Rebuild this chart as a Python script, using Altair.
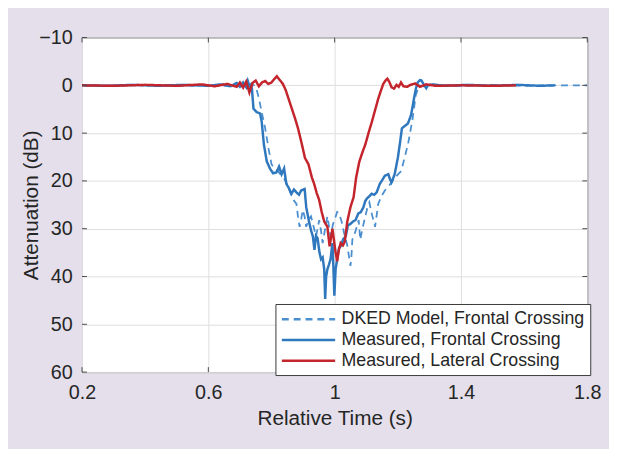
import altair as alt
import pandas as pd

# ---- data ----
series_names = ["DKED Model, Frontal Crossing",
                "Measured, Frontal Crossing",
                "Measured, Lateral Crossing"]

dked_t = [0.20, 0.30, 0.40, 0.50, 0.60, 0.68, 0.72, 0.745, 0.753, 0.761, 0.769, 0.78,
          0.79, 0.80, 0.81, 0.82, 0.83, 0.84, 0.85, 0.86, 0.87, 0.879, 0.884, 0.889,
          0.894, 0.899, 0.905, 0.91, 0.918, 0.925, 0.933, 0.941, 0.946, 0.951, 0.957,
          0.962, 0.97, 0.977, 0.982, 0.987, 0.995, 1.003, 1.008, 1.014, 1.022, 1.03,
          1.04, 1.05, 1.053, 1.056, 1.066, 1.076, 1.081, 1.088, 1.096, 1.104, 1.11,
          1.118, 1.128, 1.138, 1.148, 1.159, 1.17, 1.18, 1.195, 1.211, 1.222, 1.232,
          1.24, 1.247, 1.257, 1.268, 1.28, 1.30, 1.40, 1.50, 1.60, 1.70, 1.80]
dked_v = [0.0, 0.1, -0.1, 0.1, 0.0, 0.1, -0.1, 0.0, 0.9, 3.0, 5.6, 9.0,
          13.0, 16.5, 17.5, 17.9, 18.8, 19.5, 20.8, 22.5, 24.0, 24.8, 27.5, 29.6,
          28.0, 26.1, 27.5, 29.6, 28.0, 27.4, 29.5, 31.6, 30.0, 28.2, 30.5,
          33.0, 30.0, 27.4, 29.5, 31.6, 29.0, 27.5, 26.5, 26.8, 28.5, 30.9,
          33.5, 37.8, 36.0, 32.3, 30.5, 28.2, 32.3, 30.0, 27.7, 25.5, 24.5,
          27.0, 29.6, 24.8, 23.2, 22.0, 21.2, 20.3, 19.0, 17.9, 15.0, 12.4,
          9.5, 6.9, 2.0, 0.0, 0.2, -0.1, 0.1, -0.1, 0.1, 0.0, 0.0]

meas_t = [0.20, 0.28, 0.36, 0.44, 0.52, 0.60, 0.64, 0.67, 0.69, 0.70, 0.71, 0.72,
          0.725, 0.73, 0.735, 0.738, 0.743, 0.753, 0.764, 0.769, 0.776, 0.785, 0.795,
          0.805, 0.816, 0.824, 0.832, 0.84, 0.847, 0.855, 0.863, 0.871, 0.879, 0.887,
          0.894, 0.905, 0.91, 0.92, 0.926, 0.931, 0.936, 0.941, 0.946, 0.952, 0.957,
          0.962, 0.967, 0.97, 0.973, 0.977, 0.982, 0.987, 0.993, 0.996, 0.999, 1.003,
          1.008, 1.014, 1.019, 1.027, 1.035, 1.042, 1.05, 1.058, 1.066, 1.075, 1.083,
          1.091, 1.097, 1.102, 1.11, 1.117, 1.125, 1.133, 1.143, 1.151, 1.159, 1.17,
          1.175, 1.18, 1.185, 1.19, 1.20, 1.207, 1.213, 1.222, 1.232, 1.242, 1.248,
          1.253, 1.258, 1.263, 1.27, 1.275, 1.282, 1.29, 1.295, 1.31, 1.35, 1.42,
          1.50, 1.58, 1.65, 1.697]
meas_v = [0.0, 0.1, -0.1, 0.1, -0.1, 0.1, -0.2, 0.2, -0.5, 0.3, -0.6, 0.4,
          -0.9, 0.2, -0.2, 0.7, 4.9, 5.6, 5.9, 7.6, 12.4, 15.9, 17.4,
          18.4, 18.2, 17.0, 18.6, 17.4, 20.6, 21.5, 22.7, 21.8, 22.4, 22.9,
          22.0, 21.7, 25.5, 28.9, 30.5, 31.6, 34.4, 31.5, 32.0, 35.0, 36.4,
          36.0, 38.5, 44.7, 40.0, 38.5, 37.5, 36.4, 33.0, 38.0, 44.0, 38.5,
          36.4, 34.0, 33.7, 32.2, 31.6, 29.3, 29.0, 28.5, 28.2, 26.8, 26.5,
          25.5, 24.2, 23.7, 23.2, 22.7, 22.9, 22.4, 20.6, 19.8, 18.9, 18.6,
          19.6, 20.3, 19.5, 18.6, 15.2, 12.0, 9.0, 8.5, 8.0, 6.2, 4.0,
          2.1, 0.5, -0.6, -1.1, -1.0, -0.2, 0.6, 0.0, -0.2, 0.1, -0.1,
          0.1, -0.1, 0.1, 0.0]

lat_t = [0.20, 0.30, 0.40, 0.50, 0.58, 0.62, 0.66, 0.69, 0.70, 0.71, 0.72, 0.73,
         0.74, 0.75, 0.76, 0.77, 0.78, 0.79, 0.80, 0.81, 0.817, 0.825, 0.836, 0.845,
         0.855, 0.865, 0.875, 0.884, 0.895, 0.906, 0.917, 0.928, 0.935, 0.943, 0.951,
         0.959, 0.967, 0.977, 0.984, 0.993, 1.003, 1.008, 1.013, 1.019, 1.026, 1.032,
         1.04, 1.05, 1.06, 1.068, 1.078, 1.088, 1.097, 1.108, 1.118, 1.128, 1.138,
         1.146, 1.154, 1.161, 1.167, 1.174, 1.18, 1.188, 1.196, 1.203, 1.21, 1.218,
         1.23, 1.24, 1.255, 1.27, 1.29, 1.32, 1.40, 1.50, 1.574]
lat_v = [0.0, 0.1, -0.1, 0.1, -0.2, 0.2, -0.3, 0.3, -0.6, 0.5, -0.8, 1.5,
         -0.5, -1.0, 0.2, -0.6, -0.9, -0.3, -0.6, -1.4, -1.9, -1.2, -0.3, 1.0,
         3.0, 5.0, 7.0, 9.0, 12.0, 15.2, 16.5, 19.3, 20.6, 22.5, 24.0,
         26.5, 28.5, 29.6, 33.7, 30.0, 35.0, 36.8, 34.5, 33.0, 33.5, 32.7,
         28.5, 25.5, 23.4, 19.3, 16.0, 14.0, 12.4, 9.8, 7.6, 5.2, 2.8,
         1.2, -0.3, -1.0, -1.4, -0.6, 0.4, 0.7, -0.1, 0.3, -0.6, 0.2,
         0.3, -0.1, -0.4, 0.3, -0.2, 0.1, 0.0, 0.1, 0.0]

x_ticks = [0.2, 0.6, 1.0, 1.4, 1.8]
y_ticks = [-10, 0, 10, 20, 30, 40, 50, 60]

rows = []
for name, ts, vs in [(series_names[0], dked_t, dked_v),
                     (series_names[1], meas_t, meas_v),
                     (series_names[2], lat_t, lat_v)]:
    for t, v in zip(ts, vs):
        rows.append({"series": name, "t": t, "v": v})
df = pd.DataFrame(rows)
xt_df = pd.DataFrame({"t": x_ticks})
yt_df = pd.DataFrame({"v": y_ticks})

W, H = 512, 339
TICK = 5
FONT = "Liberation Sans"
TXT = "#262626"
FRAME = "#4a4a4a"

color_scale = alt.Scale(domain=series_names, range=["#4b8fd0", "#2f78be", "#c4242b"])
dash_scale = alt.Scale(domain=series_names, range=[[7, 5], [1, 0], [1, 0]])
x_scale = alt.Scale(domain=[0.2, 1.8], nice=False, zero=False)
y_scale = alt.Scale(domain=[-10, 60], reverse=True, nice=False, zero=False)

x_axis = alt.Axis(values=x_ticks,
                  labelExpr="abs(datum.value - 1) < 1e-9 ? '1' : format(datum.value, '.1f')",
                  title="Relative Time (s)",
                  grid=True, gridColor="#dedede", ticks=False, domain=False,
                  labelFontSize=20, titleFontSize=21, labelFont=FONT,
                  titleFont=FONT, labelColor=TXT, titleColor=TXT,
                  titleFontWeight="normal", labelPadding=11, titlePadding=5,
                  labelFlush=False)
y_axis = alt.Axis(values=y_ticks, format="d", title="Attenuation (dB)",
                  grid=True, gridColor="#dedede", ticks=False, domain=False,
                  labelFontSize=20, titleFontSize=21, labelFont=FONT,
                  titleFont=FONT, labelColor=TXT, titleColor=TXT,
                  titleFontWeight="normal", labelPadding=10, titlePadding=-3,
                  labelFlush=False)

x_enc = alt.X("t:Q", scale=x_scale, axis=x_axis, title="Relative Time (s)")
y_enc = alt.Y("v:Q", scale=y_scale, axis=y_axis, title="Attenuation (dB)")

legend = alt.Legend(title=None, orient="none", legendX=196, legendY=270,
                    fillColor="white", strokeColor="#3a3a3a", padding=5,
                    labelFontSize=18, labelFont=FONT, labelColor=TXT,
                    symbolType="M-1,0H5", symbolSize=324, symbolStrokeWidth=2.5,
                    labelOffset=41, rowPadding=1, labelLimit=400)

def layer(name, width):
    return alt.Chart(df).transform_filter(
        alt.datum.series == name
    ).mark_line(strokeWidth=width, clip=True).encode(
        x=x_enc, y=y_enc,
        color=alt.Color("series:N", scale=color_scale, legend=legend),
        strokeDash=alt.StrokeDash("series:N", scale=dash_scale, legend=legend),
    )

# inward tick marks on all four sides (same axis definitions so axes merge)
ticks_bottom = alt.Chart(xt_df).mark_rule(color=FRAME, strokeWidth=1).encode(
    x=x_enc, y=alt.value(H), y2=alt.value(H - TICK))
ticks_top = alt.Chart(xt_df).mark_rule(color=FRAME, strokeWidth=1).encode(
    x=x_enc, y=alt.value(0), y2=alt.value(TICK))
ticks_left = alt.Chart(yt_df).mark_rule(color=FRAME, strokeWidth=1).encode(
    y=y_enc, x=alt.value(0), x2=alt.value(TICK))
ticks_right = alt.Chart(yt_df).mark_rule(color=FRAME, strokeWidth=1).encode(
    y=y_enc, x=alt.value(W), x2=alt.value(W - TICK))

chart = alt.layer(
    layer(series_names[0], 1.8),
    layer(series_names[1], 2.5),
    layer(series_names[2], 2.5),
    ticks_bottom, ticks_top, ticks_left, ticks_right,
).properties(
    width=W, height=H,
    background="#e4dfeb",
    autosize=alt.AutoSizeParams(type="none"),
    padding={"left": 75, "top": 27, "right": 22, "bottom": 75},
).configure_view(stroke=FRAME, strokeWidth=1, fill="white")

chart.save("out.html", embed_options={"renderer": "svg", "actions": False})
